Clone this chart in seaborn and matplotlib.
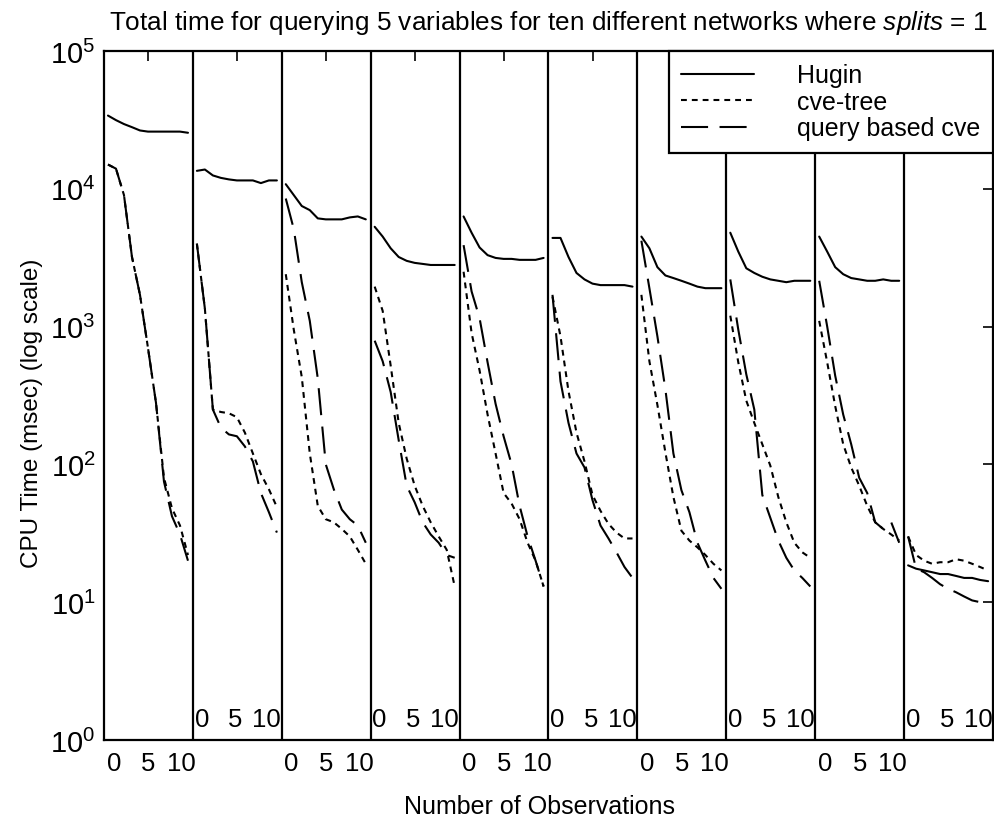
import matplotlib
matplotlib.use("Agg")
import matplotlib.pyplot as plt
import seaborn as sns
import pandas as pd
from matplotlib.lines import Line2D
from matplotlib.ticker import NullLocator

# ---------------- data ----------------
observations = list(range(11))          # number of observations 0..10
networks = list(range(10))               # ten different networks (panels)
methods = ["Hugin", "cve-tree", "query based cve"]

hugin_msec = [
    [34000, 31500, 29500, 28000, 26500, 26000, 26000, 26000, 26000, 26000, 25500],
    [13500, 13800, 12500, 12000, 11700, 11500, 11500, 11500, 11000, 11500, 11500],
    [10800, 9000, 7500, 7000, 6100, 6000, 6000, 6000, 6200, 6300, 6000],
    [5300, 4500, 3700, 3200, 3000, 2900, 2850, 2800, 2800, 2800, 2800],
    [6300, 4800, 3750, 3300, 3150, 3100, 3100, 3050, 3050, 3050, 3150],
    [4400, 4400, 3200, 2450, 2200, 2050, 2000, 2000, 2000, 2000, 1950],
    [4500, 3700, 2700, 2350, 2250, 2150, 2050, 1950, 1900, 1900, 1900],
    [4800, 3500, 2650, 2450, 2300, 2200, 2150, 2100, 2150, 2150, 2150],
    [4500, 3500, 2700, 2400, 2250, 2200, 2150, 2150, 2200, 2150, 2150],
    [18.5, 17.5, 17, 16.5, 16, 16, 15.5, 15, 15, 14.5, 14.2],
]
cve_tree_msec = [
    [15000, 14000, 9000, 3200, 1700, 700, 280, 80, 48, 36, 22],
    [4000, 1350, 250, 240, 235, 220, 170, 120, 85, 66, 49],
    [2400, 950, 430, 120, 50, 40, 38, 34, 30, 24, 19],
    [1950, 1300, 520, 200, 110, 70, 50, 38, 30, 24, 13],
    [2500, 900, 480, 230, 120, 62, 52, 40, 27, 20, 13],
    [1650, 850, 340, 170, 105, 60, 46, 37, 32, 29, 29],
    [1700, 560, 270, 122, 58, 33, 28, 25, 22, 19, 17],
    [1200, 550, 290, 200, 140, 98, 58, 38, 27, 23, 21],
    [1100, 550, 265, 140, 95, 70, 50, 38, 34, 31, 28],
    [30, 22, 20, 19, 19.5, 19.5, 20.5, 20, 19, 18, 17],
]
query_cve_msec = [
    [15000, 14000, 9000, 3200, 1700, 700, 280, 75, 42, 31, 20],
    [4000, 1350, 250, 185, 165, 160, 135, 105, 62, 45, 32],
    [8500, 5100, 2100, 1100, 420, 100, 66, 47, 40, 36, 27],
    [790, 560, 335, 150, 70, 53, 38, 31, 27, 22, 21],
    [3900, 1800, 1150, 550, 275, 160, 100, 50, 30, 20, 13],
    [1700, 400, 200, 120, 95, 55, 36, 29, 23, 18, 15],
    [4200, 1900, 850, 350, 120, 65, 45, 27, 20, 15, 12.5],
    [2200, 950, 450, 250, 60, 41, 28, 21, 17, 15, 13],
    [2150, 1000, 440, 230, 140, 80, 62, 38, 34, 38, 27],
    [30, 17.5, 16.5, 15, 13.5, 12.5, 11.8, 11, 10.3, 10, 10],
]
panel_tick_labels = ["0", "5", "10"]
y_ticks = [1, 10, 100, 1000, 10000, 100000]

title = "Total time for querying 5 variables for ten different networks where $\\mathit{splits}$ = 1"
x_label = "Number of Observations"
y_label = "CPU Time (msec) (log scale)"

# ---------------- long-form table ----------------
PANEL = 10.0
rows = []
for p in networks:
    for m, series in zip(methods, [hugin_msec, cve_tree_msec, query_cve_msec]):
        for k, v in zip(observations, series[p]):
            rows.append({"panel": p, "method": m, "obs": k,
                         "xpos": p * PANEL + 0.45 + k * 0.9, "time": v})
df = pd.DataFrame(rows)

# ---------------- style ----------------
sns.set_theme(style="white")
plt.rcParams["font.family"] = ["Liberation Sans", "DejaVu Sans"]
plt.rcParams["mathtext.fontset"] = "custom"
plt.rcParams["mathtext.rm"] = "Liberation Sans"
plt.rcParams["mathtext.it"] = "Liberation Sans:italic"
plt.rcParams["mathtext.bf"] = "Liberation Sans:bold"
plt.rcParams["text.color"] = "black"
plt.rcParams["axes.labelcolor"] = "black"

LW = 1.5
dash_map = {"Hugin": "", "cve-tree": (2.8, 2.4), "query based cve": (13.0, 5.5)}

fig = plt.figure(figsize=(9.94, 8.28), dpi=100)
ax = fig.add_axes([0.1046, 0.1051, 0.8944, 0.8321])

sns.lineplot(data=df, x="xpos", y="time", style="method", style_order=methods,
             units="panel", estimator=None, sort=False, color="black",
             dashes=dash_map, linewidth=LW, legend=False, ax=ax)

ax.set_yscale("log")
ax.set_ylim(1, 1e5)
ax.set_xlim(0, PANEL * len(networks))

for p in networks[1:]:
    ax.axvline(p * PANEL, color="black", lw=1.6)

ax.set_xticks([p * PANEL + 5 for p in networks])
ax.set_xticklabels([])
ax.set_yticks(y_ticks)
ax.yaxis.set_minor_locator(NullLocator())
ax.xaxis.set_minor_locator(NullLocator())
ax.tick_params(axis="both", which="major", direction="in", length=7, width=1.2,
               top=True, right=True, color="black")
ax.tick_params(axis="y", labelsize=21, pad=6, labelcolor="black")
for s in ax.spines.values():
    s.set_color("black")
    s.set_linewidth(1.6)

# per-panel "0 5 10" labels, alternating below / inside the axes
trans = ax.get_xaxis_transform()
for p in networks:
    below = (p % 2 == 0)
    offs = [1.1, 5.0, 8.7] if below else [1.0, 4.8, 8.3]
    yy = -0.034 if below else 0.03
    for lab, off in zip(panel_tick_labels, offs):
        ax.text(p * PANEL + off, yy, lab, transform=trans, ha="center",
                va="center", fontsize=18.5, color="black")

ax.set_xlabel(x_label, fontsize=18)
ax.xaxis.set_label_coords(0.49, -0.078)
ax.set_ylabel(y_label, fontsize=17.5)
ax.yaxis.set_label_coords(-0.0686, 0.476)
ax.set_title(title, fontsize=18.8, pad=16, color="black")

handles = [Line2D([], [], color="black", lw=LW, linestyle="-"),
           Line2D([], [], color="black", lw=LW, dashes=dash_map["cve-tree"]),
           Line2D([], [], color="black", lw=LW, dashes=dash_map["query based cve"])]
leg = ax.legend(handles, methods, loc="upper right", bbox_to_anchor=(1, 1),
                borderaxespad=0, frameon=True, fancybox=False, framealpha=1,
                edgecolor="black", fontsize=18, handlelength=2.9,
                handletextpad=1.75, labelspacing=0.1, borderpad=0.5)
leg.get_frame().set_linewidth(1.6)

fig.savefig("out.png", dpi=100, facecolor="white")
